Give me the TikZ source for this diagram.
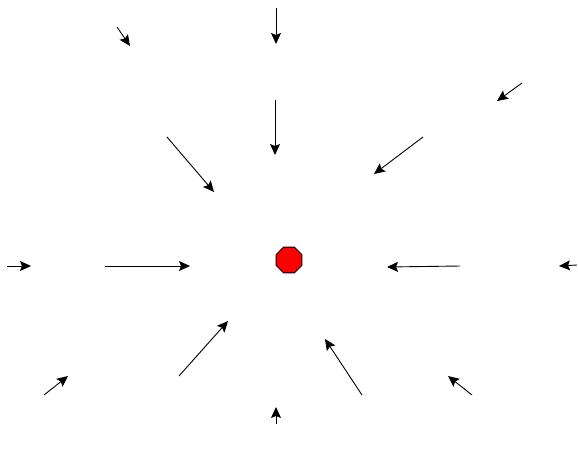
\documentclass[tikz,border=0pt]{standalone}
\usetikzlibrary{arrows.meta,shapes.geometric}
\begin{document}
\begin{tikzpicture}[x=1pt,y=-1pt,
  vec/.style={draw=black,line width=0.9pt,-{Stealth[length=11pt,width=10pt,inset=2pt]}},
  charge/.style={regular polygon,regular polygon sides=8,minimum size=28pt,inner sep=0pt,draw=black,line width=0.9pt,fill=red}]
\useasboundingbox (0,0) rectangle (578,453);
\node[charge] (q) at (289,260) {};
% start / end coordinates
\coordinate (a1s) at (276,8);   \coordinate (a1e) at (276,44);
\coordinate (a2s) at (275,100); \coordinate (a2e) at (275,155);
\coordinate (a3s) at (117,27);  \coordinate (a3e) at (130,46);
\coordinate (a4s) at (167,137); \coordinate (a4e) at (214,192);
\coordinate (a5s) at (423,137); \coordinate (a5e) at (374,174);
\coordinate (a6s) at (522,83);  \coordinate (a6e) at (497,101);
\coordinate (a7s) at (7,266);   \coordinate (a7e) at (31,266);
\coordinate (a8s) at (105,266); \coordinate (a8e) at (190,266);
\coordinate (a9s) at (460,266); \coordinate (a9e) at (387,267);
\coordinate (a10s) at (577,265); \coordinate (a10e) at (559,266);
\coordinate (a11s) at (44,395); \coordinate (a11e) at (68,376);
\coordinate (a12s) at (179,376); \coordinate (a12e) at (228,321);
\coordinate (a13s) at (362,395); \coordinate (a13e) at (325,339);
\coordinate (a14s) at (472,395); \coordinate (a14e) at (448,376);
\coordinate (a15s) at (276,424); \coordinate (a15e) at (276,407);
\foreach \i in {1,...,15} \draw[vec] (a\i s) -- (a\i e);
\end{tikzpicture}
\end{document}
